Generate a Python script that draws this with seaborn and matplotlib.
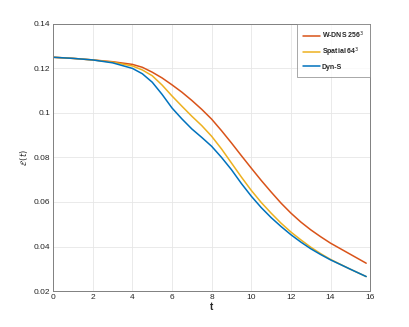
import numpy as np
import pandas as pd
import seaborn as sns
import matplotlib
matplotlib.use("Agg")
import matplotlib.pyplot as plt

# valores
t = [0, 1, 2, 3, 4, 4.5, 5, 5.5, 6, 6.5, 7, 7.5, 8, 8.5, 9, 9.5, 10, 10.5,
     11, 11.5, 12, 12.5, 13, 13.5, 14, 15, 15.8]
wdns = [0.1250, 0.1245, 0.1238, 0.1230, 0.1218, 0.1205, 0.1183, 0.1157, 0.1126,
        0.1093, 0.1056, 0.1016, 0.0972, 0.0920, 0.0865, 0.0808, 0.0752, 0.0697,
        0.0645, 0.0595, 0.0550, 0.0510, 0.0475, 0.0444, 0.0415, 0.0365, 0.0325]
spatial = [0.1250, 0.1245, 0.1238, 0.1228, 0.1211, 0.1193, 0.1167, 0.1125, 0.1076,
           0.1030, 0.0985, 0.0943, 0.0895, 0.0838, 0.0775, 0.0712, 0.0652, 0.0598,
           0.0550, 0.0505, 0.0465, 0.0430, 0.0397, 0.0368, 0.0342, 0.0298, 0.0265]
dyns = [0.1250, 0.1245, 0.1238, 0.1225, 0.1200, 0.1176, 0.1138, 0.1083, 0.1022,
        0.0973, 0.0928, 0.0890, 0.0850, 0.0800, 0.0745, 0.0683, 0.0626, 0.0575,
        0.0530, 0.0490, 0.0453, 0.0420, 0.0390, 0.0364, 0.0340, 0.0298, 0.0265]
nomes = ["W-DNS 256$^3$", "Spatial 64$^3$", "Dyn-S"]
cores = ["#D95319", "#EDB120", "#0072BD"]
xticks = [0, 2, 4, 6, 8, 10, 12, 14, 16]
yticks = [0.02, 0.04, 0.06, 0.08, 0.1, 0.12, 0.14]
yticklabels = ["0.02", "0.04", "0.06", "0.08", "0.1", "0.12", "0.14"]

sns.set_style("whitegrid")
plt.rcParams["font.family"] = ["Liberation Sans", "DejaVu Sans"]

fig = plt.figure(figsize=(4.09, 3.27), dpi=100)
ax = fig.add_axes([0.13, 0.110, 0.775, 0.817])

for serie, nome, cor in zip([wdns, spatial, dyns], nomes, cores):
    sns.lineplot(x=t, y=serie, color=cor, label=nome, linewidth=1.1, ax=ax)

ax.set_xlim(0, 16)
ax.set_ylim(0.02, 0.14)
ax.set_xticks(xticks)
ax.set_xticklabels([str(v) for v in xticks])
ax.set_yticks(yticks)
ax.set_yticklabels(yticklabels)
ax.tick_params(direction="in", length=2.5, width=0.6, labelsize=6,
               colors="#262626", pad=2)
ax.grid(True, color="#e6e6e6", linewidth=0.6)
for s in ax.spines.values():
    s.set_color("#808080")
    s.set_linewidth(0.7)

ax.set_xlabel("t", fontsize=7, fontweight="bold", color="#262626", labelpad=1)
ax.set_ylabel(r"$\mathcal{E}\,(t)$", fontsize=6, color="#262626", labelpad=3)

leg = ax.legend(loc="upper right", fontsize=5, frameon=True, fancybox=False,
                borderpad=0.9, labelspacing=0.65, handlelength=2.4,
                handletextpad=0.3, borderaxespad=0)
leg.get_frame().set_edgecolor("#808080")
leg.get_frame().set_linewidth(0.6)
for txt in leg.get_texts():
    txt.set_fontweight("bold")

fig.savefig("out.png", dpi=100)
